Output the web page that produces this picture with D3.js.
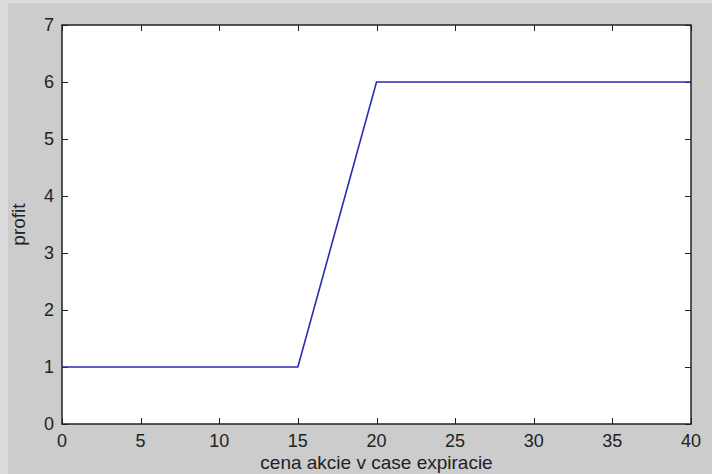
<!DOCTYPE html>
<html>
<head>
<meta charset="utf-8">
<script src="https://cdn.jsdelivr.net/npm/d3@7"></script>
<style>
  body { margin: 0; background: #dcdcdc; }
  svg { display: block; }
  text { font-family: "Liberation Sans", Arial, sans-serif; fill: #222; }
</style>
</head>
<body>
<svg id="chart" width="712" height="474"></svg>
<script>
// payoff at expiry: x = stock price, y = profit
var prices = [0, 15, 20, 40]
var profits = [1, 1, 6, 6]
var xTicks = [0, 5, 10, 15, 20, 25, 30, 35, 40]
var yTicks = [0, 1, 2, 3, 4, 5, 6, 7]
var xLabel = "cena akcie v case expiracie"
var yLabel = "profit"

var svg = d3.select("#chart")
var W = 712, H = 474
// note: "top" is taken by window.top, so use a plain object
var box = { left: 62, right: 691, top: 25, bottom: 424 }
var tickLen = 6

// outer figure background
svg.append("rect").attr("x", 0).attr("y", 0).attr("width", W).attr("height", H).attr("fill", "#dcdcdc")
svg.append("rect").attr("x", 8).attr("y", 3).attr("width", W - 8).attr("height", H - 3).attr("fill", "#cccccc")

var x = d3.scaleLinear().domain([0, 40]).range([box.left, box.right])
var y = d3.scaleLinear().domain([0, 7]).range([box.bottom, box.top])

svg.append("rect")
  .attr("x", box.left).attr("y", box.top)
  .attr("width", box.right - box.left).attr("height", box.bottom - box.top)
  .attr("fill", "#fff")

// ticks inside the box on all four sides
var g = svg.append("g").attr("stroke", "#222").attr("stroke-width", 1)
xTicks.forEach(function(t) {
  var px = Math.round(x(t)) + 0.5
  g.append("line").attr("x1", px).attr("x2", px).attr("y1", box.bottom).attr("y2", box.bottom - tickLen)
  g.append("line").attr("x1", px).attr("x2", px).attr("y1", box.top).attr("y2", box.top + tickLen)
})
yTicks.forEach(function(t) {
  var py = Math.round(y(t)) + 0.5
  g.append("line").attr("x1", box.left).attr("x2", box.left + tickLen).attr("y1", py).attr("y2", py)
  g.append("line").attr("x1", box.right).attr("x2", box.right - tickLen).attr("y1", py).attr("y2", py)
})

// data line
var line = d3.line().x(function(d, i) { return x(prices[i]) }).y(function(d) { return y(d) })
svg.append("path")
  .datum(profits)
  .attr("d", line)
  .attr("fill", "none")
  .attr("stroke", "#2b2bb0")
  .attr("stroke-width", 1.6)

// frame
svg.append("rect")
  .attr("x", box.left).attr("y", box.top)
  .attr("width", box.right - box.left).attr("height", box.bottom - box.top)
  .attr("fill", "none").attr("stroke", "#222").attr("stroke-width", 1.5)

// tick labels
svg.selectAll(".xt").data(xTicks).enter().append("text")
  .attr("class", "xt")
  .attr("x", function(d) { return x(d) })
  .attr("y", 447)
  .attr("text-anchor", "middle")
  .style("font-size", "18px")
  .text(function(d) { return d })

svg.selectAll(".yt").data(yTicks).enter().append("text")
  .attr("class", "yt")
  .attr("x", 54)
  .attr("y", function(d) { return y(d) })
  .attr("dy", "0.36em")
  .attr("text-anchor", "end")
  .style("font-size", "18px")
  .text(function(d) { return d })

// axis titles
svg.append("text")
  .attr("x", (box.left + box.right) / 2)
  .attr("y", 469)
  .attr("text-anchor", "middle")
  .style("font-size", "19px")
  .text(xLabel)

svg.append("text")
  .attr("transform", "translate(25," + (box.top + box.bottom) / 2 + ") rotate(-90)")
  .attr("text-anchor", "middle")
  .style("font-size", "19px")
  .text(yLabel)
</script>
</body>
</html>
